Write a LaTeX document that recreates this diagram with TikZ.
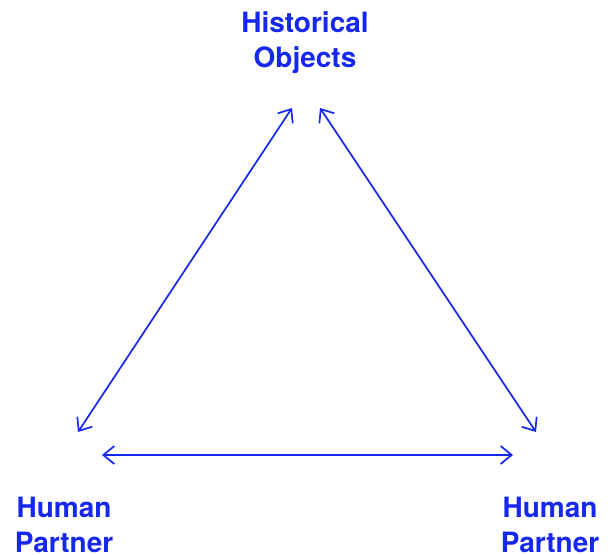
\documentclass[tikz,border=0pt]{standalone}
\usepackage{fontspec}
\setmainfont{TeX Gyre Heros}
\usepackage{tikz}
\usetikzlibrary{arrows.meta,positioning}

\definecolor{triblue}{RGB}{22,40,240}

\tikzset{
	vertex/.style={text=triblue, font=\fontsize{14pt}{17.5pt}\selectfont\bfseries, align=center, inner sep=0pt},
	link/.style={draw=triblue, line width=0.85pt, {Straight Barb[length=5.5pt,width=9pt]}-{Straight Barb[length=5.5pt,width=9pt]}}
}

\begin{document}
\begin{tikzpicture}[x=0.5pt,y=-0.5pt]
	\useasboundingbox (0,0) rectangle (608,554);
	
	% Labels at the three corners
	\node[vertex] (objects) at (305,43) {Historical\\Objects};
	\node[vertex] (partnerL) at (64,525) {Human\\Partner};
	\node[vertex] (partnerR) at (550,525) {Human\\Partner};
	
	% Arrow ends
	\coordinate (objL) at (292,108);
	\coordinate (objR) at (320,108);
	\coordinate (leftUp) at (78,432);
	\coordinate (rightUp) at (536,432);
	\coordinate (leftLow) at (102,455);
	\coordinate (rightLow) at (513,455);
	
	% Triangle of double arrows
	\draw[link] (leftUp) -- (objL);
	\draw[link] (objR) -- (rightUp);
	\draw[link] (leftLow) -- (rightLow);
	
\end{tikzpicture}
\end{document}
